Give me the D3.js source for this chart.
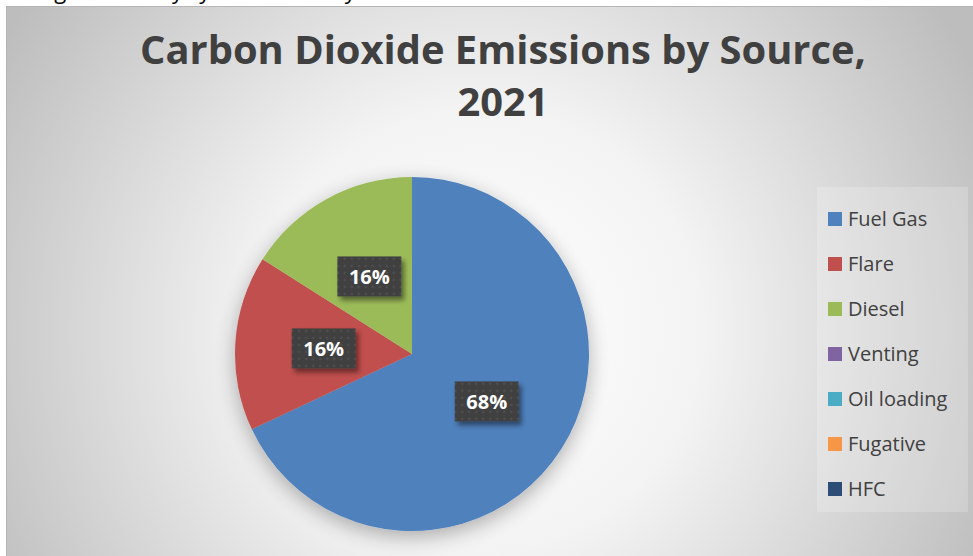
<!DOCTYPE html>
<html>
<head>
<meta charset="utf-8">
<script src="https://cdn.jsdelivr.net/npm/d3@7/dist/d3.min.js"></script>
<style>
  html, body { margin: 0; padding: 0; background: #fff; }
  svg { display: block; }
</style>
</head>
<body>
<svg id="chart" width="973" height="556"></svg>
<script>
// Source categories and their share of CO2 emissions (percent)
const categories = ["Fuel Gas", "Flare", "Diesel", "Venting", "Oil loading", "Fugative", "HFC"];
const shares = [68, 16, 16, 0, 0, 0, 0];
const colors = ["#4f81bd", "#c0504d", "#9bbb59", "#8064a2", "#4bacc6", "#f79646", "#2c4d75"];
const titleLines = ["Carbon Dioxide Emissions by Source,", "2021"];
const bodyText = "flare gas recovery system was only reinstated";

const W = 973, H = 556;
const svg = d3.select("#chart");
const defs = svg.append("defs");

// radial background fill of the chart area
const bg = defs.append("radialGradient").attr("id", "bgGrad")
  .attr("gradientUnits", "userSpaceOnUse")
  .attr("cx", 480).attr("cy", 330).attr("r", 560);
bg.append("stop").attr("offset", "0%").attr("stop-color", "#ffffff");
bg.append("stop").attr("offset", "40%").attr("stop-color", "#f3f3f3");
bg.append("stop").attr("offset", "100%").attr("stop-color", "#bdbdbd");

// soft shadow under the pie
const pieShadow = defs.append("filter").attr("id", "pieShadow")
  .attr("x", "-30%").attr("y", "-30%").attr("width", "160%").attr("height", "160%");
pieShadow.append("feGaussianBlur").attr("in", "SourceAlpha").attr("stdDeviation", 10).attr("result", "b");
pieShadow.append("feOffset").attr("in", "b").attr("dx", 0).attr("dy", 6).attr("result", "o");
pieShadow.append("feComponentTransfer").attr("in", "o").attr("result", "s")
  .append("feFuncA").attr("type", "linear").attr("slope", 0.3);
const pm = pieShadow.append("feMerge");
pm.append("feMergeNode").attr("in", "s");
pm.append("feMergeNode").attr("in", "SourceGraphic");

// shadow under the value boxes
const boxShadow = defs.append("filter").attr("id", "boxShadow")
  .attr("x", "-30%").attr("y", "-30%").attr("width", "160%").attr("height", "160%");
boxShadow.append("feGaussianBlur").attr("in", "SourceAlpha").attr("stdDeviation", 2.5).attr("result", "b");
boxShadow.append("feOffset").attr("in", "b").attr("dx", 3).attr("dy", 4).attr("result", "o");
boxShadow.append("feComponentTransfer").attr("in", "o").attr("result", "s")
  .append("feFuncA").attr("type", "linear").attr("slope", 0.45);
const bm = boxShadow.append("feMerge");
bm.append("feMergeNode").attr("in", "s");
bm.append("feMergeNode").attr("in", "SourceGraphic");

// dotted dark texture of the value boxes
const pat = defs.append("pattern").attr("id", "dots")
  .attr("patternUnits", "userSpaceOnUse").attr("width", 7).attr("height", 7);
pat.append("rect").attr("width", 7).attr("height", 7).attr("fill", "#404040");
pat.append("circle").attr("cx", 3.5).attr("cy", 3.5).attr("r", 1.1).attr("fill", "#575757");

// running document text above the chart (its upper part lies above the page)
svg.append("text")
  .attr("x", 2).attr("y", -1)
  .attr("font-family", "'Open Sans', sans-serif")
  .attr("font-size", 22)
  .attr("fill", "#000")
  .text(bodyText);

// chart area
svg.append("rect")
  .attr("x", 6.5).attr("y", 6.5).attr("width", W).attr("height", H)
  .attr("fill", "url(#bgGrad)")
  .attr("stroke", "#b5b5b5").attr("stroke-width", 1);

// title
const title = svg.append("text")
  .attr("text-anchor", "middle")
  .attr("font-family", "'Open Sans', sans-serif")
  .attr("font-weight", "bold")
  .attr("fill", "#404040");
title.selectAll("tspan").data(titleLines).join("tspan")
  .attr("x", 503)
  .attr("y", (d, i) => 64 + i * 52)
  .text(d => d);
title.attr("font-size", 36);
const firstW = title.select("tspan").node().getComputedTextLength();
title.attr("font-size", 36 * 726 / firstW);

// pie
const cx = 412, cy = 354, R = 177;
const pie = d3.pie().sort(null).value(d => d.v);
const data = categories.map((c, i) => ({ c, v: shares[i], color: colors[i] }));
const arcs = pie(data);
const arc = d3.arc().innerRadius(0).outerRadius(R);

const g = svg.append("g").attr("transform", `translate(${cx},${cy})`);
g.append("g").attr("filter", "url(#pieShadow)")
  .selectAll("path").data(arcs.filter(a => a.data.v > 0)).join("path")
  .attr("d", arc)
  .attr("fill", d => d.data.color);

// value labels in dark boxes at the slice centroids
const labels = g.selectAll("g.lbl").data(arcs.filter(a => a.data.v > 0)).join("g")
  .attr("class", "lbl")
  .attr("transform", d => `translate(${arc.centroid(d)})`);
labels.append("rect")
  .attr("x", -32).attr("y", -20).attr("width", 64).attr("height", 40)
  .attr("fill", "url(#dots)")
  .attr("filter", "url(#boxShadow)");
labels.append("text")
  .attr("text-anchor", "middle")
  .attr("dy", "0.36em")
  .attr("font-family", "'Open Sans', sans-serif")
  .attr("font-weight", "bold")
  .attr("font-size", 20)
  .attr("fill", "#ffffff")
  .text(d => d.data.v + "%");

// legend
const legend = svg.append("g");
legend.append("rect")
  .attr("x", 817).attr("y", 187).attr("width", 151).attr("height", 325)
  .attr("fill", "#ffffff").attr("fill-opacity", 0.2);
const ly = d3.scalePoint().domain(categories).range([219, 489]);
const li = legend.selectAll("g.item").data(data).join("g")
  .attr("class", "item")
  .attr("transform", d => `translate(828,${ly(d.c)})`);
li.append("rect").attr("x", 0).attr("y", -7).attr("width", 14).attr("height", 14)
  .attr("fill", d => d.color);
li.append("text")
  .attr("x", 20).attr("dy", "0.36em")
  .attr("font-family", "'Open Sans', sans-serif")
  .attr("font-size", 20)
  .attr("fill", "#404040")
  .text(d => d.c);
</script>
</body>
</html>
